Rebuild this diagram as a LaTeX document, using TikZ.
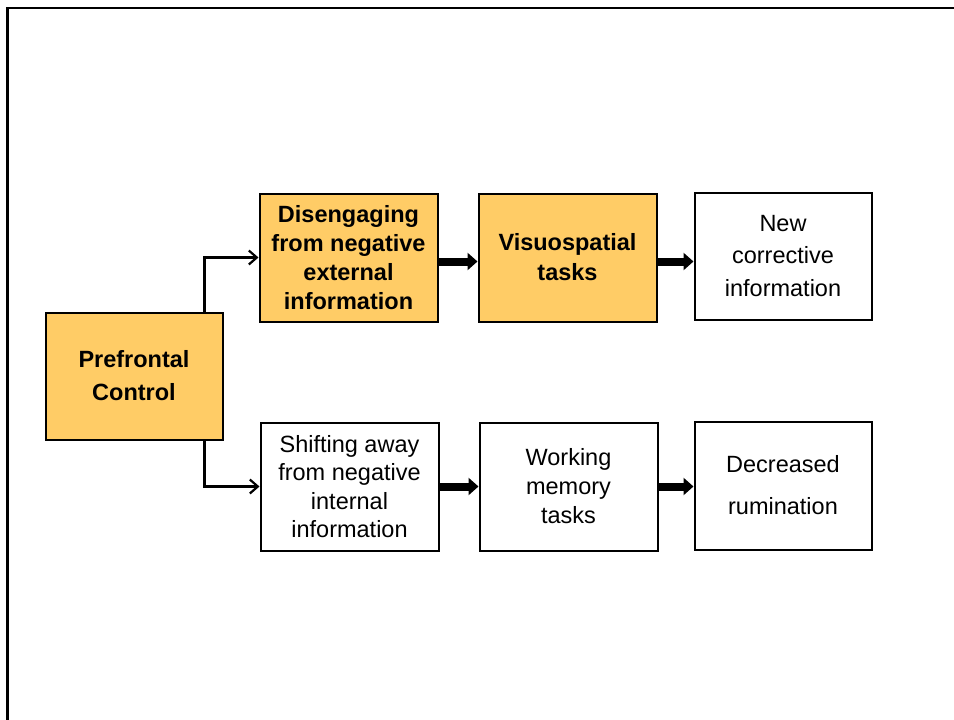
\documentclass[tikz,border=0pt]{standalone}
\usepackage{fontspec}
\setmainfont{Liberation Sans}
\usetikzlibrary{arrows.meta}
\definecolor{boxfill}{RGB}{255,204,102}
\begin{document}
\begin{tikzpicture}[x=1pt,y=-1pt,
  box/.style={draw=black,line width=2pt,minimum width=177pt,minimum height=127pt,
    inner sep=0pt,align=center,fill=white},
  hl/.style={box,fill=boxfill},
  thinarrow/.style={draw=black,line width=2.2pt,-{Straight Barb[length=8pt,width=14pt,line width=2.2pt]}},
  bigarrow/.style={draw=black,line width=8pt,-{Triangle[length=10pt,width=17pt]}}
]
\useasboundingbox (0,0) rectangle (954,720);
\begin{scope}
  \clip (0,0) rectangle (954,720);
  \fill[white] (0,0) rectangle (954,720);
  % page frame, only its top and left edges fall inside the page
  \draw[line width=2.5pt] (7.5,8) rectangle (1000,800);
\end{scope}

% boxes
\node[hl,font=\fontsize{23.5}{33}\selectfont\bfseries] (pc) at (134,376) {Prefrontal\\Control};
\node[hl,minimum width=178pt,minimum height=128pt,font=\fontsize{23.5}{29}\selectfont\bfseries] (dis) at (348.5,257.5)
  {Disengaging\\from negative\\external\\information};
\node[hl,minimum width=178pt,minimum height=128pt,font=\fontsize{23.5}{30}\selectfont\bfseries] (vis) at (567.5,257.5)
  {Visuospatial\\tasks};
\node[box,font=\fontsize{23.5}{32.5}\selectfont] (new) at (783,256) {New\\corrective\\information};

\node[box,minimum width=178pt,minimum height=128pt,font=\fontsize{23.5}{28.5}\selectfont] (shf) at (349.5,486.5)
  {Shifting away\\from negative\\internal\\information};
\node[box,minimum width=178pt,minimum height=128pt,font=\fontsize{23.5}{29}\selectfont] (wm) at (568.5,486.5)
  {Working\\memory\\tasks};
\node[box,minimum height=128pt,font=\fontsize{23.5}{42}\selectfont] (dec) at (783,485.5)
  {Decreased\\rumination};

% branches out of prefrontal control
\draw[thinarrow] ([xshift=-19pt]pc.north east) |- (dis.west);
\draw[thinarrow] ([xshift=-19pt]pc.south east) |- (shf.west);

% flow arrows, kept level
\draw[bigarrow] ([yshift=-4pt]dis.east) -- ([yshift=-4pt]vis.west);
\draw[bigarrow] ([yshift=-4pt]vis.east) -- ([yshift=-4pt]vis.east -| new.west);
\draw[bigarrow] (shf.east) -- (wm.west);
\draw[bigarrow] (wm.east) -- (wm.east -| dec.west);
\end{tikzpicture}
\end{document}
